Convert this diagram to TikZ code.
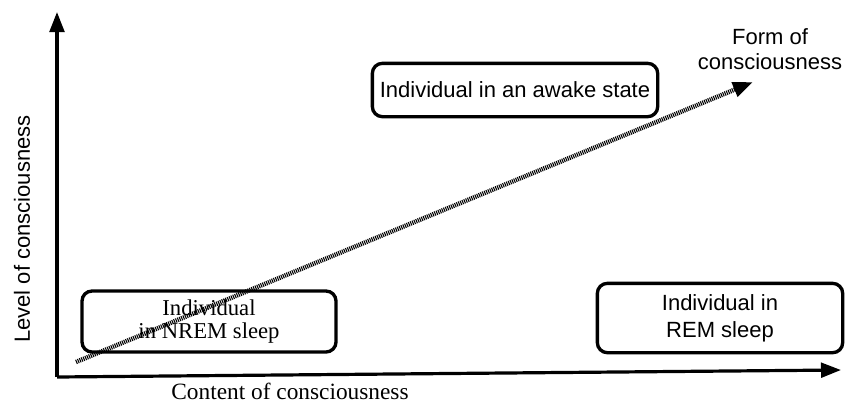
\documentclass[tikz,border=0pt]{standalone}
\usepackage{fontspec}
\setmainfont{Liberation Serif}
\setsansfont{Liberation Sans}
\usetikzlibrary{arrows.meta}

\tikzset{
  etat/.style={draw, line width=2.5pt, rounded corners=7.5pt, align=center},
  axe/.style={line width=2.4pt, -{Triangle[length=15pt,width=11pt]}},
  forme/.style={line width=3.4pt, dash pattern=on 0.8pt off 0.7pt,
                -{Triangle[length=15pt,width=11pt]}}
}

\begin{document}
\begin{tikzpicture}  % ------ niveau et contenu de la conscience  --------------
      [x=0.75pt,y=-0.75pt]
    \useasboundingbox (0,0) rectangle (845,404);
    \coordinate (O) at (57,377);
    \coordinate (Yhaut) at (57,12);
    \coordinate (Xfin) at (841,370);
    \coordinate (F0) at (76,362);
    \coordinate (F1) at (753,82);

    \draw[axe] (O) -- (Yhaut) ;
    \draw[axe] (O) -- (Xfin) ;

\begin{sffamily}
    \node[etat, minimum width=214pt, minimum height=40pt, font=\fontsize{16.5}{19.5}\selectfont]
        (eveil) at (515,90) {Individual in an awake state};
    \node[etat, minimum width=184pt, minimum height=52pt, font=\fontsize{16.5}{20}\selectfont]
        (rem) at (720,318) {Individual in\\REM sleep};
    \node[align=center, font=\fontsize{16.5}{19}\selectfont]
        (forme) at (770,49) {Form of\\consciousness};
    \node[rotate=90, font=\fontsize{16.5}{19.5}\selectfont]
        (niveau) at (22,229) {Level of consciousness};
\end{sffamily}

    \node[font=\fontsize{17.5}{20}\selectfont] (contenu) at (290,391) {Content of consciousness};
    \node[etat, minimum width=190.5pt, minimum height=45.75pt, font=\fontsize{17}{17.5}\selectfont]
        (nrem) at (209,321.5) {Individual\\in NREM sleep};

    \draw[forme] (F0) -- (F1) ;
\end{tikzpicture}
\end{document}
